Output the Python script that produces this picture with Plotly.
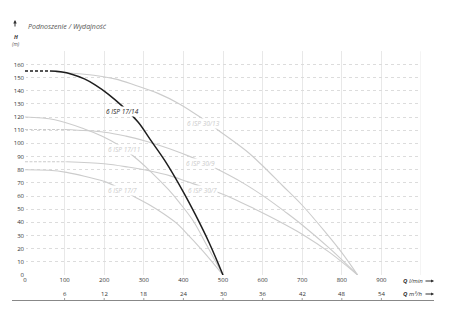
import plotly.graph_objects as go

# ---- data ----
q_17_14 = [63, 90, 120, 150, 177, 210, 245, 286, 316, 354, 400, 430, 465, 500]
h_17_14 = [155, 154.4, 152.4, 149, 144.5, 137.5, 128.5, 116, 103, 86.5, 63, 46, 24.5, 0]
q_17_14_dash = [0, 63]
h_17_14_dash = [155, 155]

q_30_13 = [78, 150, 227, 280, 336, 390, 442, 488, 560, 600, 650, 700, 760, 800, 840]
h_30_13 = [154, 152.5, 149, 144, 138, 130, 120, 110, 94, 83, 68, 53, 32, 17, 0]

q_30_9 = [100, 200, 255, 308, 365, 425, 475, 550, 607, 657, 700, 770, 840]
h_30_9 = [110.5, 108.5, 105.5, 101.5, 96, 89, 82, 70, 59, 48, 38, 20, 0]
q_30_9_dash = [0, 100]
h_30_9_dash = [110.5, 110.5]

q_30_7 = [105, 200, 260, 316, 365, 409, 485, 526, 581, 640, 700, 770, 840]
h_30_7 = [86, 84.5, 82, 79, 75.5, 71, 63, 58, 50, 41, 31, 17, 0]
q_30_7_dash = [0, 105]
h_30_7_dash = [86, 86]

q_17_11 = [0, 75, 150, 195, 235, 275, 316, 362, 390, 425, 460, 500]
h_17_11 = [120, 118, 111, 105.5, 99, 90, 79, 65, 55, 41, 22, 0]

q_17_7 = [0, 60, 105, 150, 210, 273, 316, 350, 384, 404, 450, 500]
h_17_7 = [80, 79.6, 78, 75, 70, 60, 53, 46.5, 39, 33, 18, 0]

curve_names = ["6 ISP 17/14", "6 ISP 30/13", "6 ISP 17/11", "6 ISP 30/9", "6 ISP 30/7", "6 ISP 17/7"]
lmin_ticks = [0, 100, 200, 300, 400, 500, 600, 700, 800, 900]
m3h_ticks = [6, 12, 18, 24, 30, 36, 42, 48, 54]
h_ticks = list(range(0, 171, 10))

# ---- style ----
BLACK = "#1e1e1e"
GRAY = "#cccccc"
FONT = "Open Sans"
W, H = 450, 322
L, R, T, B = 25, 29, 51, 47
PW, PH = W - L - R, H - T - B


def px2paper(x, y):
    return (x - L) / PW, (H - B - y) / PH


def note(px, py, text, size, color, xanchor="center"):
    x, y = px2paper(px, py)
    fig.add_annotation(x=x, y=y, xref="paper", yref="paper", xanchor=xanchor,
                       yanchor="middle", text=text, showarrow=False,
                       font=dict(family=FONT, size=size, color=color))


fig = go.Figure()

gray_sets = [(q_30_13, h_30_13), (q_30_9, h_30_9), (q_30_7, h_30_7),
             (q_17_11, h_17_11), (q_17_7, h_17_7)]
for q, h in gray_sets:
    fig.add_trace(go.Scatter(x=q, y=h, mode="lines",
                             line=dict(color=GRAY, width=1.1, shape="spline", smoothing=1.0),
                             hoverinfo="skip", showlegend=False))
for q, h in [(q_30_9_dash, h_30_9_dash), (q_30_7_dash, h_30_7_dash)]:
    fig.add_trace(go.Scatter(x=q, y=h, mode="lines",
                             line=dict(color=GRAY, width=1.1, dash="3px,1.5px"),
                             hoverinfo="skip", showlegend=False))
fig.add_trace(go.Scatter(x=q_17_14, y=h_17_14, mode="lines",
                         line=dict(color=BLACK, width=1.5, shape="spline", smoothing=1.0),
                         hoverinfo="skip", showlegend=False))
fig.add_trace(go.Scatter(x=q_17_14_dash, y=h_17_14_dash, mode="lines",
                         line=dict(color=BLACK, width=1.3, dash="3px,2px"),
                         hoverinfo="skip", showlegend=False))

# curve labels (positions in data coords; styling)
label_pos = [(245, 124), (452, 115), (250, 95), (443, 85), (447, 64.5), (245, 64.5)]
label_col = [BLACK, GRAY, GRAY, GRAY, GRAY, GRAY]
for name, (lx, ly), c in zip(curve_names, label_pos, label_col):
    fig.add_annotation(x=lx, y=ly, xref="x", yref="y", text="<i>" + name + "</i>",
                       xanchor="center", yanchor="middle",
                       showarrow=False, font=dict(family=FONT, size=6.5, color=c),
                       bgcolor="white", borderpad=0)

# title and axis titles
note(26, 26, "<i>Podnoszenie / Wydajność</i>", 7, "#555", xanchor="left")
x, y = px2paper(15, 20)
fig.add_annotation(x=x, y=y, xref="paper", yref="paper", text="", showarrow=True,
                   ax=0, ay=8, arrowhead=2, arrowsize=0.7, arrowwidth=1, arrowcolor="#333")
note(16, 37, "<b><i>H</i></b>", 5.5, "#333")
note(16, 43.5, "<i>(m)</i>", 5, "#555")

# bottom unit labels + arrows
for py, unit in [(281, "l/min"), (294, "m³/h")]:
    note(401, py, "<b><i>Q</i></b> <i>" + unit + "</i>", 6, "#333", xanchor="left")
    x, y = px2paper(434, py)
    fig.add_annotation(x=x, y=y, xref="paper", yref="paper", text="", showarrow=True,
                       ax=-10, ay=0, arrowhead=2, arrowsize=0.6, arrowwidth=1, arrowcolor="#333")

# second axis (m3/h) labels, ticks and line
_, y_lab = px2paper(0, 294)
_, y_t0 = px2paper(0, 298)
_, y_t1 = px2paper(0, 300.5)
for v in m3h_ticks:
    qv = v * 100 / 6
    fig.add_annotation(x=qv, y=y_lab, xref="x", yref="paper", text=str(v), showarrow=False,
                       xanchor="center", yanchor="middle",
                       font=dict(family=FONT, size=6, color="#333"))
    fig.add_shape(type="line", xref="x", yref="paper", x0=qv, x1=qv, y0=y_t0, y1=y_t1,
                  line=dict(color="#888", width=0.8))
xa, ya = px2paper(12, 300.5)
xb, _ = px2paper(434, 300.5)
fig.add_shape(type="line", xref="paper", yref="paper", x0=xa, x1=xb, y0=ya, y1=ya,
              line=dict(color="#888", width=1.2))

fig.update_xaxes(range=[0, 1000], tickmode="array", tickvals=lmin_ticks,
                 ticktext=[str(t) for t in lmin_ticks],
                 showgrid=True, gridcolor="#e8e8e8", gridwidth=1,
                 zeroline=True, zerolinecolor="white", showline=False, ticks="",
                 tickfont=dict(family=FONT, size=6, color="#333"), fixedrange=True)
fig.update_yaxes(range=[0, 170.2], tickmode="array", tickvals=h_ticks,
                 ticktext=[str(t) if t < 170 else "" for t in h_ticks],
                 showgrid=True, gridcolor="#dcdcdc", gridwidth=1, griddash="dot",
                 zeroline=False, showline=False, ticks="",
                 tickfont=dict(family=FONT, size=6, color="#333"), fixedrange=True)

# vertical grid line at right edge
fig.add_shape(type="line", xref="x", yref="y", x0=1000, x1=1000, y0=0, y1=170,
              line=dict(color="#e8e8e8", width=1))

fig.update_layout(width=W, height=H, margin=dict(l=L, r=R, t=T, b=B),
                  plot_bgcolor="white", paper_bgcolor="white", showlegend=False)

fig.write_html("out.html")
